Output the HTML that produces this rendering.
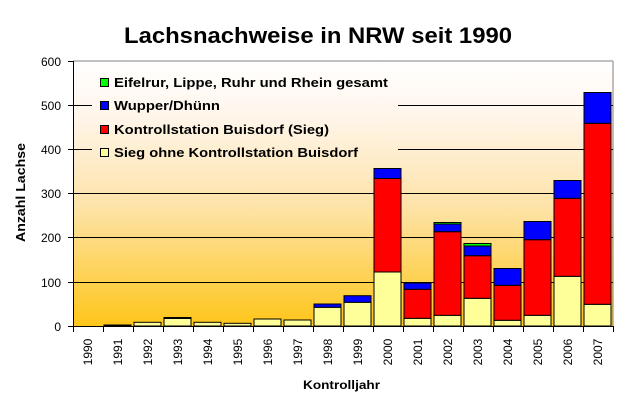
<!DOCTYPE html>
<html><head><meta charset="utf-8"><style>
html,body{margin:0;padding:0;background:#fff;}
svg{display:block;font-family:"Liberation Sans",Arial,sans-serif;}
</style></head><body>
<svg width="636" height="408" viewBox="0 0 636 408">
<defs>
<linearGradient id="g" gradientUnits="userSpaceOnUse" x1="0" y1="61" x2="0" y2="326">
<stop offset="0" stop-color="#ffffff"/>
<stop offset="0.2" stop-color="#fff6ec"/>
<stop offset="0.55" stop-color="#fde3a8"/>
<stop offset="1" stop-color="#ffc61a"/>
</linearGradient>
</defs>
<rect x="0" y="0" width="636" height="408" fill="#fff"/>
<text x="124" y="43" font-size="22" font-weight="bold" textLength="388" lengthAdjust="spacingAndGlyphs">Lachsnachweise in NRW seit 1990</text>
<rect x="73" y="61" width="540" height="265" fill="url(#g)"/>
<line x1="73" y1="61" x2="613" y2="61" stroke="#808080"/>
<line x1="613" y1="61" x2="613" y2="326" stroke="#808080"/>
<g stroke="#000" stroke-width="1">
<line x1="73" y1="105.5" x2="613" y2="105.5"/>
<line x1="73" y1="149.5" x2="613" y2="149.5"/>
<line x1="73" y1="193.5" x2="613" y2="193.5"/>
<line x1="73" y1="237.5" x2="613" y2="237.5"/>
<line x1="73" y1="282.5" x2="613" y2="282.5"/>
</g>
<rect x="92" y="68" width="306" height="97" fill="url(#g)"/>
<g font-size="12" text-anchor="end">
<text x="61" y="66">600</text><text x="61" y="110">500</text><text x="61" y="154">400</text>
<text x="61" y="198">300</text><text x="61" y="242">200</text><text x="61" y="287">100</text><text x="61" y="331">0</text>
</g>
<g stroke="#000">
<line x1="73.5" y1="61" x2="73.5" y2="326"/>
<line x1="68" y1="61.5" x2="73" y2="61.5"/><line x1="68" y1="105.5" x2="73" y2="105.5"/>
<line x1="68" y1="149.5" x2="73" y2="149.5"/><line x1="68" y1="193.5" x2="73" y2="193.5"/>
<line x1="68" y1="237.5" x2="73" y2="237.5"/><line x1="68" y1="282.5" x2="73" y2="282.5"/>
<line x1="68" y1="326.5" x2="613" y2="326.5"/>
</g>
<g stroke="#000" stroke-width="1">
<rect x="104" y="325" width="27" height="1" fill="#333"/>
<rect x="134" y="322.3" width="27" height="3.7" fill="#ffff99"/>
<rect x="164" y="318.5" width="27" height="7.5" fill="#ffff99"/>
<rect x="164" y="317.5" width="27" height="1" fill="#333"/>
<rect x="194" y="322.3" width="27" height="3.7" fill="#ffff99"/>
<rect x="224" y="323.3" width="27" height="2.7" fill="#ffff99"/>
<rect x="254" y="319" width="27" height="7" fill="#ffff99"/>
<rect x="284" y="320" width="27" height="6" fill="#ffff99"/>
<rect x="314" y="307.3" width="27" height="18.7" fill="#ffff99"/>
<rect x="314" y="304" width="27" height="3.3" fill="#0000ff"/>
<rect x="344" y="302.3" width="27" height="23.7" fill="#ffff99"/>
<rect x="344" y="295.7" width="27" height="6.6" fill="#0000ff"/>
<rect x="374" y="272" width="27" height="54" fill="#ffff99"/>
<rect x="374" y="178.5" width="27" height="93.5" fill="#ff0000"/>
<rect x="374" y="168.5" width="27" height="10" fill="#0000ff"/>
<rect x="404" y="318.3" width="27" height="7.7" fill="#ffff99"/>
<rect x="404" y="289.3" width="27" height="29" fill="#ff0000"/>
<rect x="404" y="283" width="27" height="6.3" fill="#0000ff"/>
<rect x="434" y="315.3" width="27" height="10.7" fill="#ffff99"/>
<rect x="434" y="231.7" width="27" height="83.6" fill="#ff0000"/>
<rect x="434" y="224" width="27" height="7.7" fill="#0000ff"/>
<rect x="434" y="222.5" width="27" height="1.5" fill="#00ff00"/>
<rect x="464" y="298.3" width="27" height="27.7" fill="#ffff99"/>
<rect x="464" y="255.7" width="27" height="42.6" fill="#ff0000"/>
<rect x="464" y="246" width="27" height="9.7" fill="#0000ff"/>
<rect x="464" y="243.5" width="27" height="2.5" fill="#00ff00"/>
<rect x="494" y="320.3" width="27" height="5.7" fill="#ffff99"/>
<rect x="494" y="285.3" width="27" height="35" fill="#ff0000"/>
<rect x="494" y="268.5" width="27" height="16.8" fill="#0000ff"/>
<rect x="524" y="315.3" width="27" height="10.7" fill="#ffff99"/>
<rect x="524" y="239.7" width="27" height="75.6" fill="#ff0000"/>
<rect x="524" y="221.5" width="27" height="18.2" fill="#0000ff"/>
<rect x="554" y="276.3" width="27" height="49.7" fill="#ffff99"/>
<rect x="554" y="198.3" width="27" height="78" fill="#ff0000"/>
<rect x="554" y="180.5" width="27" height="17.8" fill="#0000ff"/>
<rect x="584" y="304.3" width="27" height="21.7" fill="#ffff99"/>
<rect x="584" y="123.3" width="27" height="181" fill="#ff0000"/>
<rect x="584" y="92.5" width="27" height="30.8" fill="#0000ff"/>
</g>
<g stroke="#000">
<line x1="73.5" y1="326" x2="73.5" y2="332"/><line x1="103.5" y1="326" x2="103.5" y2="332"/>
<line x1="133.5" y1="326" x2="133.5" y2="332"/><line x1="163.5" y1="326" x2="163.5" y2="332"/>
<line x1="193.5" y1="326" x2="193.5" y2="332"/><line x1="223.5" y1="326" x2="223.5" y2="332"/>
<line x1="253.5" y1="326" x2="253.5" y2="332"/><line x1="283.5" y1="326" x2="283.5" y2="332"/>
<line x1="313.5" y1="326" x2="313.5" y2="332"/><line x1="343.5" y1="326" x2="343.5" y2="332"/>
<line x1="373.5" y1="326" x2="373.5" y2="332"/><line x1="403.5" y1="326" x2="403.5" y2="332"/>
<line x1="433.5" y1="326" x2="433.5" y2="332"/><line x1="463.5" y1="326" x2="463.5" y2="332"/>
<line x1="493.5" y1="326" x2="493.5" y2="332"/><line x1="523.5" y1="326" x2="523.5" y2="332"/>
<line x1="553.5" y1="326" x2="553.5" y2="332"/><line x1="583.5" y1="326" x2="583.5" y2="332"/>
<line x1="613.5" y1="326" x2="613.5" y2="332"/>
</g>
<g font-size="12" text-anchor="middle">
<text transform="translate(92,352) rotate(-90)">1990</text>
<text transform="translate(122,352) rotate(-90)">1991</text>
<text transform="translate(152,352) rotate(-90)">1992</text>
<text transform="translate(182,352) rotate(-90)">1993</text>
<text transform="translate(212,352) rotate(-90)">1994</text>
<text transform="translate(242,352) rotate(-90)">1995</text>
<text transform="translate(272,352) rotate(-90)">1996</text>
<text transform="translate(302,352) rotate(-90)">1997</text>
<text transform="translate(332,352) rotate(-90)">1998</text>
<text transform="translate(362,352) rotate(-90)">1999</text>
<text transform="translate(392,352) rotate(-90)">2000</text>
<text transform="translate(422,352) rotate(-90)">2001</text>
<text transform="translate(452,352) rotate(-90)">2002</text>
<text transform="translate(482,352) rotate(-90)">2003</text>
<text transform="translate(512,352) rotate(-90)">2004</text>
<text transform="translate(542,352) rotate(-90)">2005</text>
<text transform="translate(572,352) rotate(-90)">2006</text>
<text transform="translate(602,352) rotate(-90)">2007</text>
</g>
<text x="303" y="389" font-size="12" font-weight="bold" textLength="77" lengthAdjust="spacingAndGlyphs">Kontrolljahr</text>
<text transform="translate(25,242) rotate(-90)" font-size="13" font-weight="bold" textLength="99" lengthAdjust="spacingAndGlyphs">Anzahl Lachse</text>
<g stroke="#000" stroke-width="1">
<rect x="100.5" y="78.5" width="8" height="8" fill="#00ff00"/>
<rect x="100.5" y="101.5" width="8" height="8" fill="#0000ff"/>
<rect x="100.5" y="125.5" width="8" height="8" fill="#ff0000"/>
<rect x="100.5" y="148.5" width="8" height="8" fill="#ffff99"/>
</g>
<g font-size="12.5" font-weight="bold">
<text x="114" y="87" textLength="274" lengthAdjust="spacingAndGlyphs">Eifelrur, Lippe, Ruhr und Rhein gesamt</text>
<text x="114" y="110" textLength="106" lengthAdjust="spacingAndGlyphs">Wupper/Dhünn</text>
<text x="114" y="134" textLength="215" lengthAdjust="spacingAndGlyphs">Kontrollstation Buisdorf (Sieg)</text>
<text x="114" y="157" textLength="244" lengthAdjust="spacingAndGlyphs">Sieg ohne Kontrollstation Buisdorf</text>
</g>
</svg>
</body></html>
